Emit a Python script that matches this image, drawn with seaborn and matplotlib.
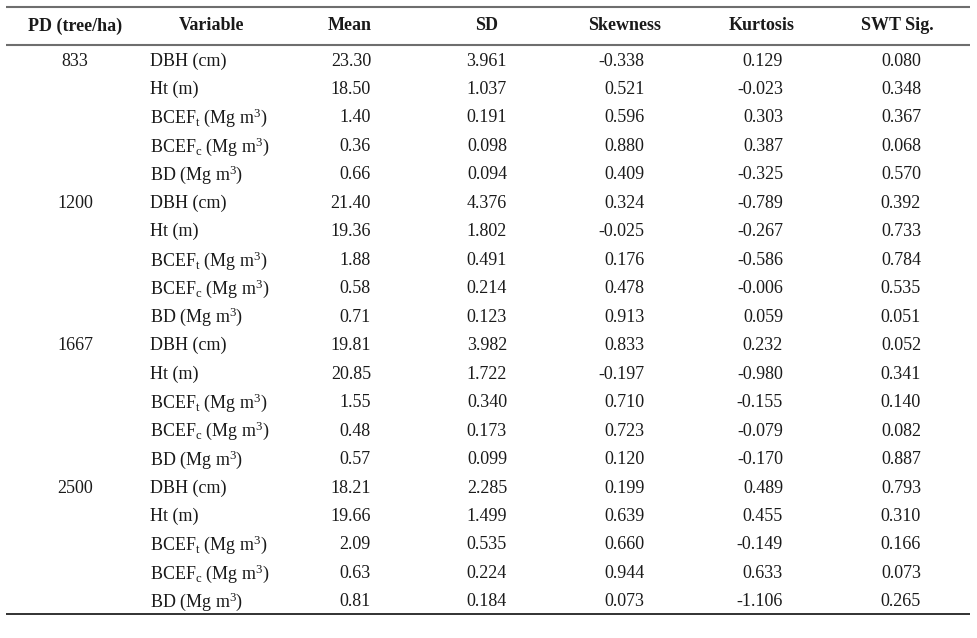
import matplotlib
matplotlib.use("Agg")
import matplotlib.pyplot as plt
import seaborn as sns

sns.set_theme(style="white")
plt.rcParams['font.family'] = ['Liberation Serif', 'DejaVu Serif']
plt.rcParams['mathtext.fontset'] = 'custom'
plt.rcParams['mathtext.rm'] = 'Liberation Serif'
plt.rcParams['mathtext.it'] = 'Liberation Serif:italic'
plt.rcParams['mathtext.bf'] = 'Liberation Serif:bold'

headers = ["PD (tree/ha)", "Variable", "Mean", "SD", "Skewness", "Kurtosis", "SWT Sig."]
densities = ["833", "1200", "1667", "2500"]
variables = ["DBH (cm)", "Ht (m)", r"BCEF$_\mathrm{t}$ (Mg m$^\mathrm{3}$)",
             r"BCEF$_\mathrm{c}$ (Mg m$^\mathrm{3}$)", r"BD (Mg m$^\mathrm{3}$)"]
mean = ["23.30", "18.50", "1.40", "0.36", "0.66",
        "21.40", "19.36", "1.88", "0.58", "0.71",
        "19.81", "20.85", "1.55", "0.48", "0.57",
        "18.21", "19.66", "2.09", "0.63", "0.81"]
sd = ["3.961", "1.037", "0.191", "0.098", "0.094",
      "4.376", "1.802", "0.491", "0.214", "0.123",
      "3.982", "1.722", "0.340", "0.173", "0.099",
      "2.285", "1.499", "0.535", "0.224", "0.184"]
skewness = ["-0.338", "0.521", "0.596", "0.880", "0.409",
            "0.324", "-0.025", "0.176", "0.478", "0.913",
            "0.833", "-0.197", "0.710", "0.723", "0.120",
            "0.199", "0.639", "0.660", "0.944", "0.073"]
kurtosis = ["0.129", "-0.023", "0.303", "0.387", "-0.325",
            "-0.789", "-0.267", "-0.586", "-0.006", "0.059",
            "0.232", "-0.980", "-0.155", "-0.079", "-0.170",
            "0.489", "0.455", "-0.149", "0.633", "-1.106"]
swt = ["0.080", "0.348", "0.367", "0.068", "0.570",
       "0.392", "0.733", "0.784", "0.535", "0.051",
       "0.052", "0.341", "0.140", "0.082", "0.887",
       "0.793", "0.310", "0.166", "0.073", "0.265"]

fig = plt.figure(figsize=(9.78, 6.38), dpi=100)
ax = fig.add_axes([0, 0, 1, 1])
ax.set_xlim(0, 978)
ax.set_ylim(638, 0)
ax.axis('off')

fs = 13
tc = '#1a1a1a'
header_y = 26
y0 = 61
dy = 28.47

# header
hx = [75, 212, 350, 487, 625, 762, 897]
for x, h in zip(hx, headers):
    ax.text(x, header_y, h, ha='center', va='center', fontsize=fs, fontweight='bold', color=tc)

# lines
ax.plot([6, 970], [6.5, 6.5], color='#6e6e6e', lw=1.5, solid_capstyle='butt')
ax.plot([6, 970], [45, 45], color='#6e6e6e', lw=1.5, solid_capstyle='butt')
ax.plot([6, 970], [614, 614], color='#222222', lw=1.3, solid_capstyle='butt')

num_cols = [(mean, 371), (sd, 507), (skewness, 644.5), (kurtosis, 783), (swt, 921)]
for i in range(len(mean)):
    y = y0 + i * dy
    if i % len(variables) == 0:
        ax.text(75, y, densities[i // len(variables)], ha='center', va='center', fontsize=fs, color=tc)
    ax.text(150, y, variables[i % len(variables)], ha='left', va='center', fontsize=fs, color=tc)
    for col, xr in num_cols:
        ax.text(xr, y, col[i], ha='right', va='center', fontsize=fs, color=tc)

fig.savefig("out.png", dpi=100, facecolor='white')
